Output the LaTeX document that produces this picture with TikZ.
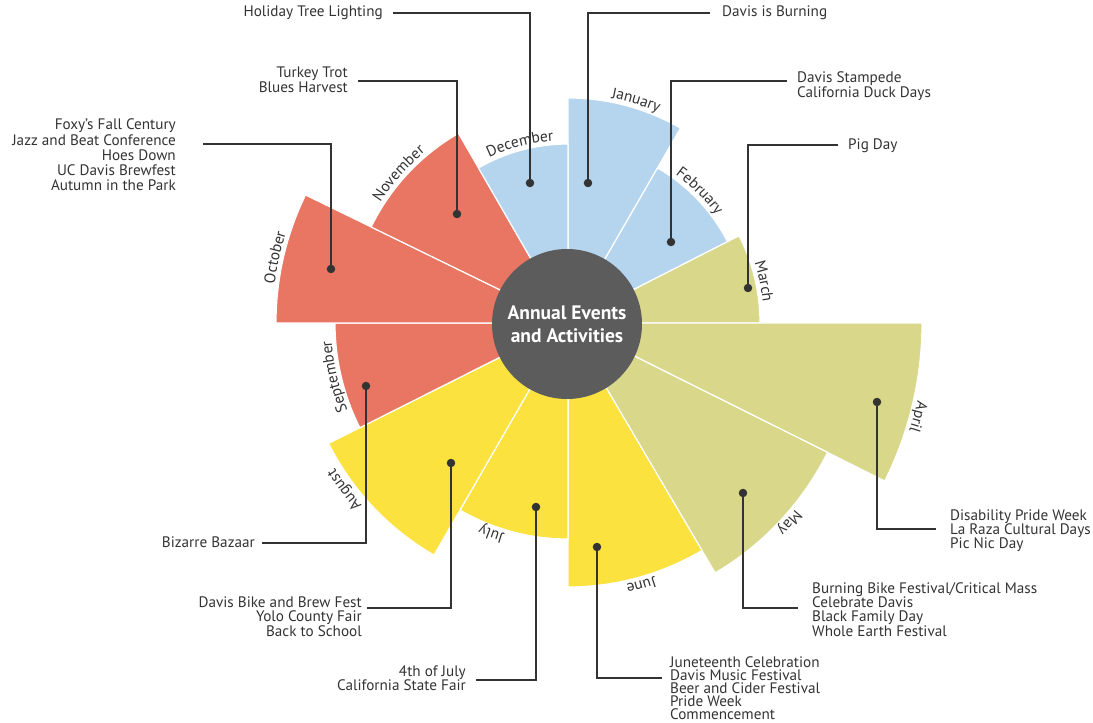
\documentclass[tikz,border=0pt]{standalone}
\usepackage{fontspec}
\setmainfont{PT Sans}
\usetikzlibrary{decorations.text}
\definecolor{cblue}{HTML}{B5D5EF}
\definecolor{cred}{HTML}{E97563}
\definecolor{cyel}{HTML}{FBE23E}
\definecolor{coli}{HTML}{D8D78A}
\definecolor{cgray}{HTML}{5C5C5C}
\definecolor{ctext}{HTML}{333333}
\definecolor{cline}{HTML}{333333}
\newcommand\mfont{\fontsize{15.5}{15.5}\selectfont\color{ctext}}
\newcommand\monthlbl[3]{%
  \path[decorate, decoration={text along path, text align=center, text={|\mfont|#3}}]
    ({#1+25}:#2) arc[start angle={#1+25}, end angle={#1-25}, radius=#2];}
\begin{document}
\begin{tikzpicture}[x=1pt,y=1pt,
  sector/.style={fill=#1, draw=white, line width=1.2pt},
  lead/.style={draw=cline, line width=2pt},
  dotnode/.style={circle, fill=cline, inner sep=0pt, minimum size=8.5pt},
  evt/.style={font=\fontsize{15.2}{15}\selectfont, text=ctext, inner sep=0pt},
  evtL/.style={evt, align=left, anchor=base west},
  evtR/.style={evt, align=right, anchor=base east},
]
\useasboundingbox (-568,-400) rectangle (525,323);
% sectors
\path[sector=cblue] (0,0) -- (60:225) arc[start angle=60,end angle=90,radius=225] -- cycle;
\path[sector=cblue] (0,0) -- (27:179) arc[start angle=27,end angle=60,radius=179] -- cycle;
\path[sector=coli] (0,0) -- (0:192) arc[start angle=0,end angle=27,radius=192] -- cycle;
\path[sector=coli] (0,0) -- (-26.5:354) arc[start angle=-26.5,end angle=0,radius=354] -- cycle;
\path[sector=coli] (0,0) -- (-59.5:290) arc[start angle=-59.5,end angle=-26.5,radius=290] -- cycle;
\path[sector=cyel] (0,0) -- (-90:264) arc[start angle=-90,end angle=-59.5,radius=264] -- cycle;
\path[sector=cyel] (0,0) -- (-120:216) arc[start angle=-120,end angle=-90,radius=216] -- cycle;
\path[sector=cyel] (0,0) -- (-153.3:268) arc[start angle=-153.3,end angle=-120,radius=268] -- cycle;
\path[sector=cred] (0,0) -- (-180:233) arc[start angle=-180,end angle=-153.3,radius=233] -- cycle;
\path[sector=cred] (0,0) -- (154:292) arc[start angle=154,end angle=180,radius=292] -- cycle;
\path[sector=cred] (0,0) -- (120:219) arc[start angle=120,end angle=154,radius=219] -- cycle;
\path[sector=cblue] (0,0) -- (90:179) arc[start angle=90,end angle=120,radius=179] -- cycle;
% month labels
\monthlbl{73}{229}{January}
\monthlbl{45}{183}{February}
\monthlbl{12}{196}{March}
\monthlbl{-15}{358}{April}
\monthlbl{-42}{294}{May}
\monthlbl{-74.4}{268}{June}
\monthlbl{-110}{220}{July}
\monthlbl{-143.3}{275}{August}
\monthlbl{-167}{237}{September}
\monthlbl{167.4}{296}{October}
\monthlbl{138.5}{223}{November}
\monthlbl{105}{183}{December}
% hub
\node[circle, fill=cgray, minimum size=150pt, inner sep=0pt, text=white,
      font=\bfseries\fontsize{19.5}{23}\selectfont, align=center] (hub) at (-1,-1)
      {Annual Events\\and Activities};
% dots
\node[dotnode] (dJan) at (20,140) {};
\node[dotnode] (dFeb) at (103,81) {};
\node[dotnode] (dMar) at (180,35) {};
\node[dotnode] (dApr) at (309,-79) {};
\node[dotnode] (dMay) at (175,-170) {};
\node[dotnode] (dJun) at (29,-224) {};
\node[dotnode] (dJul) at (-32,-184) {};
\node[dotnode] (dAug) at (-117,-140) {};
\node[dotnode] (dSep) at (-202,-63) {};
\node[dotnode] (dOct) at (-237,54) {};
\node[dotnode] (dNov) at (-111,109) {};
\node[dotnode] (dDec) at (-38,140) {};
% line ends
\coordinate (eJan) at (142,310);
\coordinate (eFeb) at (219,242);
\coordinate (eMar) at (270,178);
\coordinate (eApr) at (368,-206);
\coordinate (eMay) at (230,-285);
\coordinate (eJun) at (94,-355);
\coordinate (eJul) at (-92,-357);
\coordinate (eAug) at (-201,-285);
\coordinate (eSep) at (-306,-220);
\coordinate (eOct) at (-365,179);
\coordinate (eNov) at (-210,242);
\coordinate (eDec) at (-175,310);
\foreach \m in {Jan,Feb,Mar,Apr,May,Jun,Jul,Aug,Sep,Oct,Nov,Dec}
  \draw[lead] (d\m) |- (e\m);
% event texts (base anchor = baseline of the last line)
\node[evtR] (tDec) at (-185,306) {Holiday Tree Lighting};
\node[evtL] (tJan) at (154,306) {Davis is Burning};
\node[evtL, font=\fontsize{15.2}{12.5}\selectfont] (tFeb) at (229,225.5) {Davis Stampede\\California Duck Days};
\node[evtL] (tMar) at (280,173) {Pig Day};
\node[evtL, font=\fontsize{15.2}{14}\selectfont] (tApr) at (382,-225) {Disability Pride Week\\La Raza Cultural Days\\Pic Nic Day};
\node[evtL, font=\fontsize{15.2}{14.3}\selectfont] (tMay) at (244,-313) {Burning Bike Festival/Critical Mass\\Celebrate Davis\\Black Family Day\\Whole Earth Festival};
\node[evtL, font=\fontsize{15.2}{12.8}\selectfont] (tJun) at (102,-396) {Juneteenth Celebration\\Davis Music Festival\\Beer and Cider Festival\\Pride Week\\Commencement};
\node[evtR, font=\fontsize{15.2}{14}\selectfont] (tJul) at (-102,-367) {4th of July\\California State Fair};
\node[evtR, font=\fontsize{15.2}{14.5}\selectfont] (tAug) at (-206,-313) {Davis Bike and Brew Fest\\Yolo County Fair\\Back to School};
\node[evtR] (tSep) at (-313,-224) {Bizarre Bazaar};
\node[evtR, font=\fontsize{15.2}{15.2}\selectfont] (tOct) at (-392,132.2) {Foxy’s Fall Century\\Jazz and Beat Conference\\Hoes Down\\UC Davis Brewfest\\Autumn in the Park};
\node[evtR, font=\fontsize{15.2}{15}\selectfont] (tNov) at (-220,230) {Turkey Trot\\Blues Harvest};
\end{tikzpicture}
\end{document}
